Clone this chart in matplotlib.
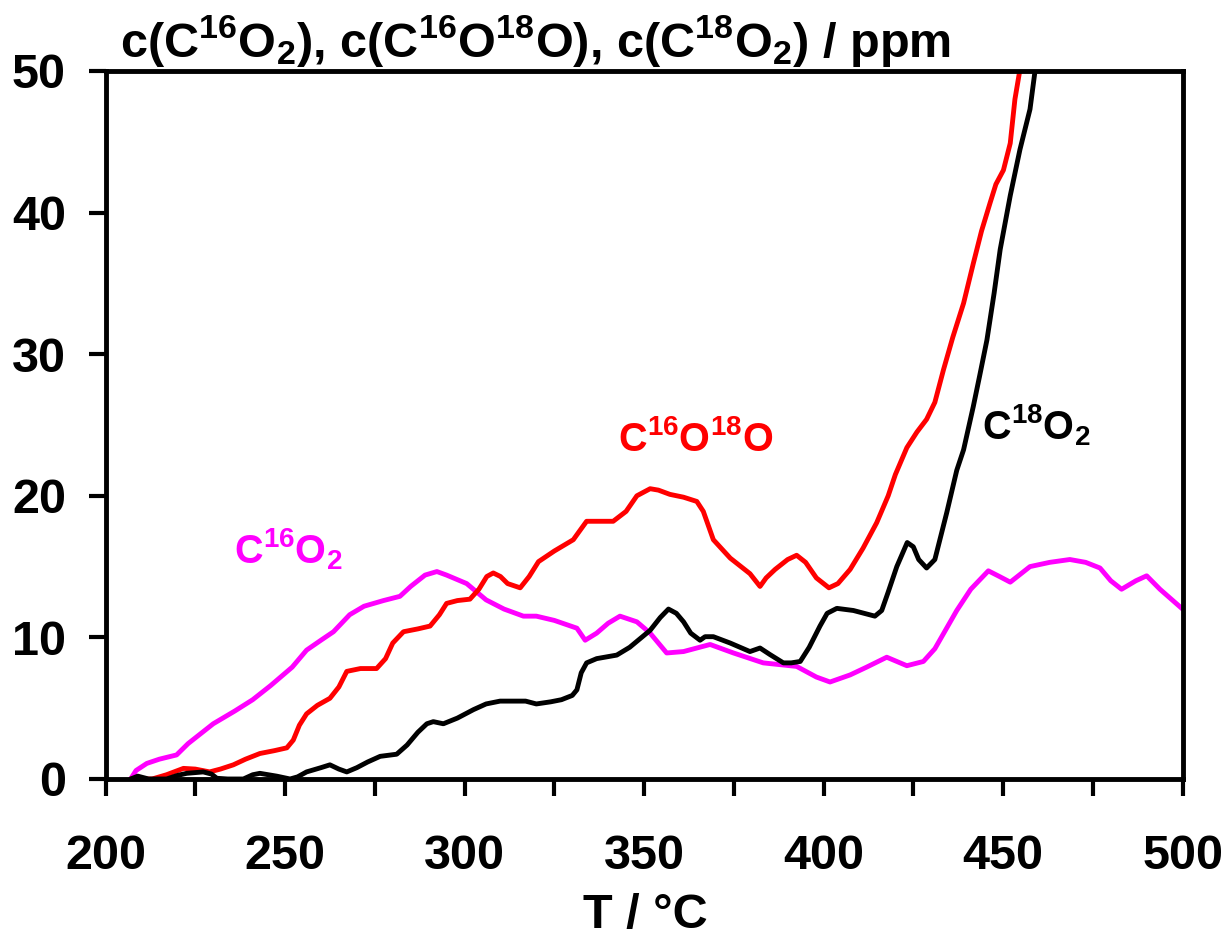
import matplotlib
matplotlib.use("Agg")
import matplotlib.pyplot as plt
from matplotlib.ticker import MultipleLocator
import numpy as np

plt.rcParams["font.family"] = ["Liberation Sans", "DejaVu Sans"]
plt.rcParams["font.weight"] = "bold"
plt.rcParams["mathtext.fontset"] = "custom"
plt.rcParams["mathtext.rm"] = "Liberation Sans:bold"
plt.rcParams["mathtext.it"] = "Liberation Sans:bold"
plt.rcParams["mathtext.bf"] = "Liberation Sans:bold"
plt.rcParams["mathtext.default"] = "rm"

# (T / degC, concentration / ppm)
c16o2 = [
    (207, 0.0), (208.5, 0.6), (211.5, 1.1), (215, 1.4), (219.8, 1.7), (223, 2.5),
    (230, 3.9), (236, 4.8), (241, 5.6), (246, 6.6), (252, 7.9), (256, 9.1),
    (260, 9.8), (263.5, 10.4), (268, 11.6), (272, 12.2), (277.4, 12.6), (282, 12.9),
    (285, 13.6), (289, 14.4), (292.3, 14.65), (295, 14.4), (300.6, 13.8), (306, 12.65),
    (311, 12.0), (316.4, 11.5), (320, 11.5), (325, 11.2), (331.3, 10.65), (333.6, 9.8),
    (336.8, 10.3), (340, 11.0), (343.3, 11.5), (348, 11.1), (351.7, 10.3), (356.3, 8.9),
    (361, 9.0), (368.4, 9.5), (374.9, 8.9), (383.2, 8.2), (392.5, 7.95), (398, 7.2),
    (401.8, 6.85), (407.4, 7.35), (412, 7.9), (417.6, 8.6), (423.2, 8.0), (427.8, 8.3),
    (431, 9.2), (437.1, 11.9), (441, 13.4), (445.9, 14.7), (449, 14.3), (452, 13.9),
    (457.5, 15.0), (463, 15.3), (468.6, 15.5), (473, 15.3), (477, 14.9), (480, 14.0),
    (483, 13.4), (487, 14.0), (490, 14.35), (493.7, 13.4), (500, 12.0),
]

c16o18o = [
    (207, 0.0), (213, 0.0), (217, 0.3), (221.7, 0.75), (225, 0.7), (229, 0.5),
    (232, 0.7), (235.6, 1.0), (239, 1.4), (243, 1.8), (247, 2.0), (250.5, 2.2),
    (252.3, 2.75), (254, 3.8), (256, 4.6), (259, 5.2), (262.5, 5.7), (265, 6.5),
    (267.2, 7.6), (271, 7.8), (275.5, 7.8), (278, 8.5), (280, 9.6), (283, 10.4),
    (287, 10.6), (290.4, 10.8), (293, 11.6), (295, 12.4), (298, 12.6), (301.5, 12.7),
    (304, 13.4), (306.2, 14.3), (308, 14.55), (310, 14.3), (312, 13.8), (315.5, 13.5),
    (318, 14.3), (320.6, 15.35), (325, 16.1), (330.3, 16.9), (332, 17.5), (334, 18.2),
    (338, 18.2), (341.4, 18.2), (345, 18.9), (348, 20.0), (351.7, 20.5), (354, 20.4),
    (357.2, 20.1), (361, 19.9), (364.7, 19.6), (366.5, 18.9), (369.3, 16.9), (374, 15.6),
    (379.5, 14.5), (382.3, 13.6), (384, 14.2), (386.5, 14.8), (390, 15.5), (392.5, 15.8),
    (395, 15.3), (398, 14.2), (401.5, 13.5), (404, 13.8), (407.4, 14.8), (411, 16.3),
    (414.8, 18.1), (418, 20.0), (420, 21.5), (423.2, 23.4), (426, 24.5), (428.7, 25.4),
    (431, 26.6), (433.4, 28.9), (436, 31.2), (439, 33.6), (441.7, 36.4), (444, 38.7),
    (446.4, 40.7), (448, 42.0), (450.1, 43.0), (452, 44.9), (453.3, 48.0), (454.7, 50.1),
    (455, 51.0),
]

c18o2 = [
    (207, 0.0), (209, 0.2), (212, 0.0), (217, 0.0), (220, 0.25), (222.6, 0.4),
    (227.2, 0.5), (229.5, 0.35), (231, 0.05), (234, 0.0), (238.4, 0.0), (241, 0.3),
    (243, 0.4), (247.7, 0.2), (251.4, 0.0), (253.5, 0.15), (256, 0.5), (260, 0.8),
    (262.5, 1.0), (265, 0.7), (267.2, 0.5), (270, 0.8), (273, 1.2), (276.5, 1.6),
    (281.1, 1.75), (284, 2.4), (287, 3.3), (289.5, 3.9), (291.3, 4.05), (294.1, 3.9),
    (298, 4.3), (302.5, 4.9), (306, 5.3), (309.9, 5.5), (315, 5.5), (317, 5.5),
    (320, 5.3), (324, 5.45), (327, 5.6), (330, 5.9), (331.3, 6.3), (332.5, 7.5),
    (334, 8.2), (336.8, 8.5), (342.4, 8.75), (346, 9.3), (351.7, 10.5), (354.5, 11.4),
    (356.8, 12.0), (359, 11.7), (361, 11.1), (363, 10.3), (365.6, 9.8), (367, 10.05),
    (369.3, 10.05), (374, 9.6), (379.5, 9.0), (382.3, 9.25), (385, 8.8), (388.8, 8.2),
    (391, 8.2), (393.5, 8.3), (396, 9.3), (399, 10.8), (401, 11.7), (403.7, 12.05),
    (408.3, 11.9), (414.3, 11.5), (416.2, 11.9), (418, 13.2), (420.4, 15.0), (423.3, 16.7),
    (425, 16.4), (426.5, 15.5), (428.7, 14.9), (431, 15.5), (434.3, 18.8), (437.1, 21.8),
    (439, 23.25), (441.7, 26.3), (443.5, 28.5), (445.5, 31.0), (447.5, 34.3), (449.2, 37.4),
    (452, 41.2), (454.7, 44.45), (457.5, 47.3), (458.9, 50.0), (459.2, 51.0),
]

series = [
    (c16o2, "#ff00ff", r"C$^{16}$O$_2$", (250.8, 16.2)),
    (c16o18o, "#ff0000", r"C$^{16}$O$^{18}$O", (364.5, 24.0)),
    (c18o2, "#000000", r"C$^{18}$O$_2$", (459.3, 25.0)),
]

fig = plt.figure(figsize=(12.27, 9.39), dpi=100)
ax = fig.add_axes([0.086, 0.1704, 0.8778, 0.754])

for data, color, label, pos in series:
    t, c = np.array(data).T
    ax.plot(t, c, color=color, lw=3.5, solid_joinstyle="round", solid_capstyle="round")
    ax.text(pos[0], pos[1], label, color=color, fontsize=28.5, ha="center", va="center")

ax.set_xlim(200, 500)
ax.set_ylim(0, 50)
ax.xaxis.set_major_locator(MultipleLocator(50))
ax.xaxis.set_minor_locator(MultipleLocator(25))
ax.yaxis.set_major_locator(MultipleLocator(10))
ax.tick_params(axis="x", which="both", direction="out", length=12.5, width=3,
               labelsize=35, pad=27)
ax.tick_params(axis="y", which="major", direction="out", length=12.5, width=3,
               labelsize=35, pad=16)
for sp in ax.spines.values():
    sp.set_linewidth(3.5)

fig.text(0.0978, 1 - 57 / 939,
         r"c(C$^{16}$O$_2$), c(C$^{16}$O$^{18}$O), c(C$^{18}$O$_2$) / ppm",
         fontsize=35, ha="left", va="baseline")
fig.text(0.526, 1 - 928 / 939, "T / °C", fontsize=35, ha="center", va="baseline")

fig.savefig("out.png", dpi=100)
